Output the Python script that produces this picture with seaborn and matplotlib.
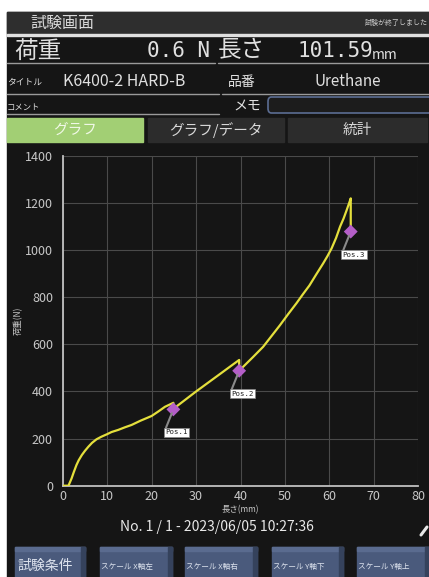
import pandas as pd
import seaborn as sns
import matplotlib.pyplot as plt
from matplotlib.patches import Rectangle, FancyBboxPatch
from matplotlib.lines import Line2D

# curve data
length = [0.0, 1.3, 2.0, 2.5, 3.1, 3.6, 4.3, 5.0, 5.8, 6.6, 7.6, 8.7, 9.9, 11.0,
          12.5, 14.0, 15.5, 17.5, 20.0, 21.5, 23.0, 24.9, 24.9,
          25.5, 30.0, 35.0, 39.7, 39.7, 40.6, 42.8, 45.1, 47.0, 48.9, 50.7, 52.6,
          54.0, 55.5, 57.0, 58.6, 59.6, 60.5, 61.5, 62.4, 63.2, 63.9, 64.4, 64.8, 64.8]
load = [0, 0, 31, 58, 88, 108, 130, 148, 166, 182, 197, 208, 218, 228,
        237, 248, 258, 276, 296, 315, 335, 352, 324,
        335, 400, 469, 534, 488, 505, 546, 590, 636, 682, 728, 775,
        812, 850, 896, 944, 976, 1008, 1052, 1100, 1135, 1171, 1198, 1220, 1079]

pos_names = ["Pos.1", "Pos.2", "Pos.3"]
pos_len = [24.9, 39.7, 64.8]
pos_load = [324, 488, 1079]

x_ticks = [0, 10, 20, 30, 40, 50, 60, 70, 80]
y_ticks = [0, 200, 400, 600, 800, 1000, 1200, 1400]

tabs = ["グラフ", "グラフ/データ", "統計"]
buttons = ["試験条件", "スケール X軸左", "スケール X軸右", "スケール Y軸下", "スケール Y軸上"]

df = pd.DataFrame({"length": length, "load": load})
pos = pd.DataFrame({"length": pos_len, "load": pos_load, "name": pos_names})

sns.set_theme(style="dark", rc={"axes.facecolor": "#151515", "figure.facecolor": "white",
                                "axes.edgecolor": "#c0c0c0", "grid.color": "#4a4a4a"})
plt.rcParams['font.family'] = ['Noto Sans CJK JP', 'DejaVu Sans']

W, H = 429, 577
fig = plt.figure(figsize=(W / 100, H / 100), dpi=100)


def fx(x):
    return x / W


def fy(y):
    return 1 - y / H


def box(x0, y0, x1, y1, **kw):
    fig.add_artist(Rectangle((fx(x0), fy(y1)), (x1 - x0) / W, (y1 - y0) / H,
                             transform=fig.transFigure, **kw))


def hline(x0, x1, y, color="#9a9a9a", lw=1):
    fig.add_artist(Line2D([fx(x0), fx(x1)], [fy(y), fy(y)], transform=fig.transFigure,
                          color=color, lw=lw))


def txt(x, y, s, **kw):
    kw.setdefault("color", "#e0e0e0")
    kw.setdefault("va", "center")
    fig.text(fx(x), fy(y), s, **kw)


# panel background
box(7, 12, 429, 577, color="#151515", zorder=-5)
box(7, 12, 429, 33, color="#2e2e2e", zorder=-4)
box(7, 33.5, 429, 35.5, color="#e0e0e0", zorder=-4)

# header
txt(30, 23, "試験画面", size=11.5, color="#d8d8d8")
txt(428, 23, "試験が終了しました", size=5, ha="right", color="#cccccc")

# load / length row
txt(14, 51, "荷重", size=17)
txt(210, 51, "0.6 N", size=15, ha="right", family="DejaVu Sans Mono")
txt(218, 51, "長さ", size=17)
txt(297, 51, "101.59", size=15, family="DejaVu Sans Mono")
txt(372, 55, "mm", size=10)
hline(7, 215, 63)
hline(218, 429, 63)

# title / comment rows
txt(7, 82, "タイトル", size=6.3)
txt(63, 82, "K6400-2 HARD-B", size=11.5)
txt(228, 82, "品番", size=10)
txt(315, 82, "Urethane", size=11)
hline(7, 219, 94)
hline(222, 429, 94)
txt(7, 107, "コメント", size=6)
txt(233, 106, "メモ", size=10)
hline(7, 219, 113.5)
fig.add_artist(FancyBboxPatch((fx(268), fy(113)), (432 - 268) / W, (113 - 97) / H,
                              boxstyle="round,pad=0,rounding_size=0.008",
                              transform=fig.transFigure, facecolor="#1c1c1c",
                              edgecolor="#5b6d93", lw=1.2, zorder=-3))

# tabs
tab_spans = [(7, 143), (148, 284), (288, 427)]
tab_fill = ["#a2cf74", "#2c2c2c", "#2c2c2c"]
tab_color = ["#f0f8e6", "#d8d8d8", "#d8d8d8"]
for (x0, x1), name, fc, tc in zip(tab_spans, tabs, tab_fill, tab_color):
    box(x0, 118, x1, 142, color=fc, zorder=-3)
    txt((x0 + x1) / 2, 130, name, size=10.5, ha="center", color=tc)

# chart
ax = fig.add_axes([fx(62.7), fy(485.7), (418.3 - 62.7) / W, (485.7 - 156) / H])
sns.lineplot(data=df, x="length", y="load", sort=False, estimator=None,
             color="#e4df3c", lw=1.6, ax=ax, zorder=3)
sns.scatterplot(data=pos, x="length", y="load", marker="D", s=50,
                color="#b45ec8", edgecolor="none", ax=ax, zorder=4)
for _, r in pos.iterrows():
    ax.annotate(r["name"], xy=(r["length"], r["load"]), xytext=(-5.8, -14.4),
                textcoords="offset points", ha="left", va="top",
                size=5.3, family="DejaVu Sans Mono", color="#222222",
                bbox=dict(boxstyle="square,pad=0.2", fc="white", ec="#888888", lw=0.5),
                arrowprops=dict(arrowstyle="-", color="#8a8a8a", lw=1.5,
                                relpos=(0, 1), shrinkA=0, shrinkB=3),
                zorder=5)

ax.set_xlim(0, 80)
ax.set_ylim(0, 1400)
ax.set_xticks(x_ticks)
ax.set_yticks(y_ticks)
ax.grid(True, color="#4a4a4a", lw=0.8)
ax.tick_params(axis="both", length=0, colors="#c8c8c8", labelsize=9)
ax.tick_params(axis="y", pad=7)
ax.tick_params(axis="x", pad=3)
for s in ["top", "right"]:
    ax.spines[s].set_visible(False)
for s in ["left", "bottom"]:
    ax.spines[s].set_color("#c0c0c0")
    ax.spines[s].set_linewidth(1.3)
ax.set_xlabel("")
ax.set_ylabel("")

txt(240, 510, "長さ(mm)", size=6, ha="center", color="#c8c8c8")
txt(18, 321, "荷重(N)", size=6, ha="center", rotation=90, color="#c8c8c8")
txt(217, 527, "No. 1 / 1 - 2023/06/05 10:27:36", size=10, ha="center", color="#e8e8e8")

# wrench icon
fig.add_artist(Line2D([fx(421), fx(427)], [fy(535), fy(527)], transform=fig.transFigure,
                      color="#e8e8e8", lw=2.2, solid_capstyle="round"))

# bottom buttons
btn_spans = [(15, 85), (100, 172), (185, 257), (272, 343), (357, 429)]
for i, ((x0, x1), name) in enumerate(zip(btn_spans, buttons)):
    box(x0, 547, x1, 577, color="#4a5a7c", zorder=-3)
    box(x0, 547, x1, 551, color="#5a6b8f", zorder=-2)
    box(x1 - 4, 547, x1, 577, color="#35425c", zorder=-2)
    if i == 0:
        txt(x0 + 2, 566, name, size=10, color="#dde3ee")
    else:
        txt(x0 + 1, 567, name, size=5.5, color="#dde3ee")

fig.savefig("out.png", dpi=100)
